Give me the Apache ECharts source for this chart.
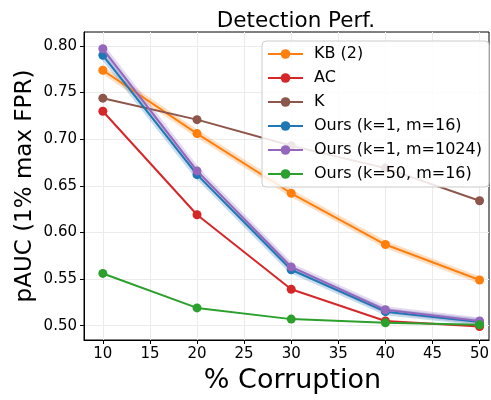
<!DOCTYPE html>
<html><head><meta charset="utf-8">
<script src="https://cdn.jsdelivr.net/npm/echarts@6/dist/echarts.min.js"></script>
<style>html,body{margin:0;padding:0;background:#fff}#c{width:491px;height:400px}</style>
</head><body><div id="c"></div>
<script>
const corruption = [10, 20, 30, 40, 50];
const xTicks = [10, 15, 20, 25, 30, 35, 40, 45, 50];
const yTicks = [0.50, 0.55, 0.60, 0.65, 0.70, 0.75, 0.80];
const names = ['KB (2)', 'AC', 'K', 'Ours (k=1, m=16)', 'Ours (k=1, m=1024)', 'Ours (k=50, m=16)'];
const kb2 = [0.774, 0.706, 0.642, 0.587, 0.549];
const ac = [0.730, 0.619, 0.539, 0.505, 0.499];
const k = [0.744, 0.721, 0.693, 0.669, 0.634];
const oursK1M16 = [0.790, 0.662, 0.560, 0.515, 0.504];
const oursK1M1024 = [0.797, 0.666, 0.563, 0.517, 0.505];
const oursK50M16 = [0.556, 0.519, 0.507, 0.503, 0.501];
const values = [kb2, ac, k, oursK1M16, oursK1M1024, oursK50M16];
const colors = ['#ff7f0e', '#d62728', '#8c564b', '#1f77b4', '#9467bd', '#2ca02c'];
const banded = [0, 3, 4];

const pairs = v => corruption.map((x, i) => [x, v[i]]);
const series = [];
banded.forEach(i => series.push({
  name: names[i] + ' band', type: 'line', data: pairs(values[i]), symbol: 'none', silent: true,
  lineStyle: {color: colors[i], width: 7, opacity: 0.25}, z: 1
}));
names.forEach((n, i) => series.push({
  name: n, type: 'line', data: pairs(values[i]), symbol: 'circle', symbolSize: 9,
  itemStyle: {color: colors[i]}, lineStyle: {color: colors[i], width: 2}, z: 2 + i
}));

const chart = echarts.init(document.getElementById('c'), null, {renderer: 'canvas'});
const font = 'DejaVu Sans';
chart.setOption({
  animation: false,
  textStyle: {fontFamily: font},
  title: {text: 'Detection Perf.', left: 291, top: 5, textAlign: 'center',
    textStyle: {fontFamily: font, fontSize: 21.5, fontWeight: 'normal', color: '#000'}},
  grid: {left: 84, top: 32, right: 2, bottom: 60, show: true, borderColor: '#000', borderWidth: 1,
    outerBoundsMode: 'none', containLabel: false},
  legend: {
    data: names, orient: 'vertical', left: 262, top: 41, itemWidth: 35, itemHeight: 12, itemGap: 8, z: 50,
    padding: [5, 7, 5, 5], backgroundColor: 'rgba(255,255,255,0.85)', borderColor: '#cccccc', borderWidth: 1, borderRadius: 4,
    textStyle: {fontFamily: font, fontSize: 16, lineHeight: 16, color: '#000', padding: [0, 0, 0, 6]}
  },
  xAxis: {
    type: 'value', min: 8, max: 51,
    name: '% Corruption', nameLocation: 'middle', nameGap: 27,
    nameTextStyle: {fontFamily: font, fontSize: 27, color: '#000', padding: [0, 0, 0, 12]},
    axisLine: {show: true, onZero: false, lineStyle: {color: '#000'}},
    axisTick: {show: true, length: 4, customValues: xTicks, lineStyle: {color: '#000'}},
    axisLabel: {customValues: xTicks, fontSize: 15, color: '#000', margin: 7, fontFamily: font},
    splitLine: {show: true, lineStyle: {color: '#ebebeb', width: 1}}
  },
  yAxis: {
    type: 'value', min: 0.4846, max: 0.815,
    name: 'pAUC (1% max FPR)', nameLocation: 'middle', nameGap: 47, nameMoveOverlap: false,
    nameTextStyle: {fontFamily: font, fontSize: 23, color: '#000'},
    axisLine: {show: true, onZero: false, lineStyle: {color: '#000'}},
    axisTick: {show: true, length: 4, customValues: yTicks, lineStyle: {color: '#000'}},
    axisLabel: {customValues: yTicks, fontSize: 15, color: '#000', margin: 7, fontFamily: font,
      formatter: v => v.toFixed(2)},
    splitLine: {show: true, lineStyle: {color: '#ebebeb', width: 1}}
  },
  series: series
});
</script></body></html>
